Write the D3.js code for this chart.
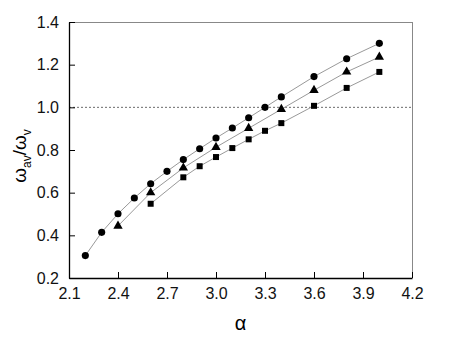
<!DOCTYPE html>
<html><head><meta charset="utf-8">
<script src="https://cdn.jsdelivr.net/npm/d3@7"></script>
<style>body{margin:0;background:#fff}svg{display:block}text{font-family:"Liberation Sans",Arial,sans-serif}</style>
</head><body>
<script>
const circleX = [2.2,2.3,2.4,2.5,2.6,2.7,2.8,2.9,3.0,3.1,3.2,3.3,3.4,3.6,3.8,4.0];
const circleY = [0.305,0.414,0.501,0.575,0.642,0.700,0.755,0.806,0.856,0.903,0.951,1.000,1.049,1.144,1.228,1.300];
const triX = [2.4,2.6,2.8,3.0,3.2,3.4,3.6,3.8,4.0];
const triY = [0.444,0.600,0.716,0.813,0.902,0.991,1.080,1.166,1.236];
const sqX = [2.6,2.8,2.9,3.0,3.1,3.2,3.3,3.4,3.6,3.8,4.0];
const sqY = [0.548,0.672,0.724,0.767,0.809,0.850,0.890,0.926,1.007,1.091,1.166];
const xTicks = [2.1,2.4,2.7,3.0,3.3,3.6,3.9,4.2];
const yTicks = [0.2,0.4,0.6,0.8,1.0,1.2,1.4];

const W=457,H=349;
const m={l:69,r:412,t:22,b:278};
const svg=d3.select("body").append("svg").attr("width",W).attr("height",H);
const x=d3.scaleLinear().domain([2.1,4.2]).range([m.l,m.r]);
const y=d3.scaleLinear().domain([0.2,1.4]).range([m.b,m.t]);

svg.append("line").attr("x1",m.l).attr("x2",m.r).attr("y1",m.t+0.5).attr("y2",m.t+0.5).attr("stroke","#888");
svg.append("line").attr("x1",m.r+0.5).attr("x2",m.r+0.5).attr("y1",m.t).attr("y2",m.b).attr("stroke","#888");

svg.append("line").attr("x1",m.l).attr("x2",m.r).attr("y1",y(1.0)).attr("y2",y(1.0))
  .attr("stroke","#444").attr("stroke-width",0.8).attr("stroke-dasharray","2,2");

const xAxis=d3.axisBottom(x).tickValues(xTicks).tickFormat(d3.format(".1f")).tickSizeInner(-6).tickSizeOuter(0).tickPadding(10);
const gx=svg.append("g").attr("transform",`translate(0,${m.b})`).call(xAxis);
const yAxis=d3.axisLeft(y).tickValues(yTicks).tickFormat(d3.format(".1f")).tickSizeInner(-6).tickSizeOuter(0).tickPadding(10);
const gy=svg.append("g").attr("transform",`translate(${m.l},0)`).call(yAxis);
[gx,gy].forEach(g=>{g.selectAll("text").attr("font-size",16).attr("fill","#111").attr("font-family","Liberation Sans, Arial, sans-serif");
  g.select(".domain").attr("stroke","#000").attr("stroke-width",1.3);
  g.selectAll(".tick line").attr("stroke","#000");});

const line=d3.line().x(d=>x(d[0])).y(d=>y(d[1]));
const series=[[circleX,circleY,d3.symbolCircle,40],[triX,triY,d3.symbolTriangle,38],[sqX,sqY,d3.symbolSquare,36]];
series.forEach(([xs,ys,sym,size])=>{
  const pts=xs.map((v,i)=>[v,ys[i]]);
  svg.append("path").datum(pts).attr("d",line).attr("fill","none").attr("stroke","#999").attr("stroke-width",1);
  svg.selectAll(null).data(pts).enter().append("path")
    .attr("d",d3.symbol().type(sym).size(size))
    .attr("transform",d=>`translate(${x(d[0])},${y(d[1])})`).attr("fill","#000");
});

svg.append("text").attr("x",(m.l+m.r)/2).attr("y",330).attr("text-anchor","middle")
  .attr("font-size",20).attr("font-family","DejaVu Sans, sans-serif").text("α");
const yl=svg.append("text").attr("transform",`translate(26,${(m.t+m.b)/2+6}) rotate(-90)`)
  .attr("text-anchor","middle").attr("font-size",19).attr("font-family","DejaVu Sans, sans-serif");
yl.append("tspan").text("ω");
yl.append("tspan").attr("font-size",12).attr("dy",5).text("av");
yl.append("tspan").attr("dy",-5).text("/ω");
yl.append("tspan").attr("font-size",12).attr("dy",5).text("v");
</script>
</body></html>
